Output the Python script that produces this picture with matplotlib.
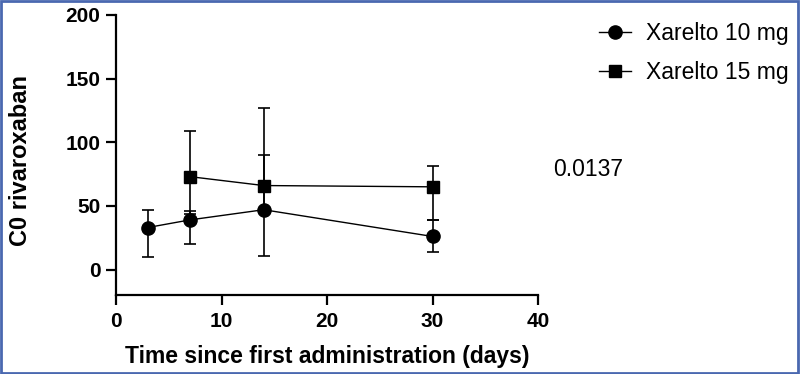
import matplotlib
matplotlib.use('Agg')
import matplotlib.pyplot as plt
from matplotlib.patches import Rectangle
import numpy as np

plt.rcParams['font.family'] = ['Liberation Sans', 'DejaVu Sans']

# Xarelto 10 mg (cercles)
days_10 = [3, 7, 14, 30]
c0_10 = [33, 39, 47, 26]
low_10 = [10, 20, 11, 14]
high_10 = [47, 46, 90, 39]

# Xarelto 15 mg (carrés)
days_15 = [7, 14, 30]
c0_15 = [73, 66, 65]
low_15 = [44, 47, 39]
high_15 = [109, 127, 81]

x_ticks = [0, 10, 20, 30, 40]
y_ticks = [0, 50, 100, 150, 200]
p_value = '0.0137'

fig = plt.figure(figsize=(8, 3.74), dpi=100)
ax = fig.add_axes([116 / 800, 1 - 295 / 374, (538 - 116) / 800, (295 - 15) / 374])


def draw_series(x, y, lo, hi, marker, ms, label):
    y = np.array(y)
    yerr = [y - np.array(lo), np.array(hi) - y]
    ax.errorbar(x, y, yerr=yerr, fmt='none', ecolor='black', elinewidth=1.2,
                capsize=4, capthick=1.2, zorder=2)
    ax.plot(x, y, color='black', lw=1.0, marker=marker, ms=ms,
            markerfacecolor='black', markeredgecolor='black', label=label, zorder=3)


draw_series(days_10, c0_10, low_10, high_10, 'o', 9.5, 'Xarelto 10 mg')
draw_series(days_15, c0_15, low_15, high_15, 's', 8.5, 'Xarelto 15 mg')

ax.set_xlim(0, 40)
ax.set_ylim(-20, 200)
ax.set_xticks(x_ticks)
ax.set_yticks(y_ticks)
for s in ['top', 'right']:
    ax.spines[s].set_visible(False)
for s in ['left', 'bottom']:
    ax.spines[s].set_linewidth(1.6)
ax.tick_params(width=1.6, length=7.2, labelsize=15)
ax.tick_params(axis='x', pad=5)
ax.tick_params(axis='y', pad=4)
for lab in ax.get_xticklabels() + ax.get_yticklabels():
    lab.set_fontweight('bold')

ax.set_xlabel('Time since first administration (days)', fontsize=16.5,
              fontweight='bold', labelpad=10)
ax.set_ylabel('C0 rivaroxaban', fontsize=17, fontweight='bold')
ax.yaxis.set_label_coords(-0.20, 0.482)

ax.legend(loc='upper left', bbox_to_anchor=(599 / 800, 1 - 22 / 374),
          bbox_transform=fig.transFigure, frameon=False, fontsize=16.5,
          handlelength=1.4, handletextpad=0.65, labelspacing=0.7, borderpad=0,
          borderaxespad=0)

fig.text(553 / 800, 1 - 169 / 374, p_value, fontsize=16.5, va='center', ha='left')

# cadre bleu autour de la figure
fig.patches.append(Rectangle((0.001, 0.003), 0.997, 0.994, transform=fig.transFigure,
                             fill=False, edgecolor='#4a68b0', linewidth=2))

fig.savefig('out.png', dpi=100)
